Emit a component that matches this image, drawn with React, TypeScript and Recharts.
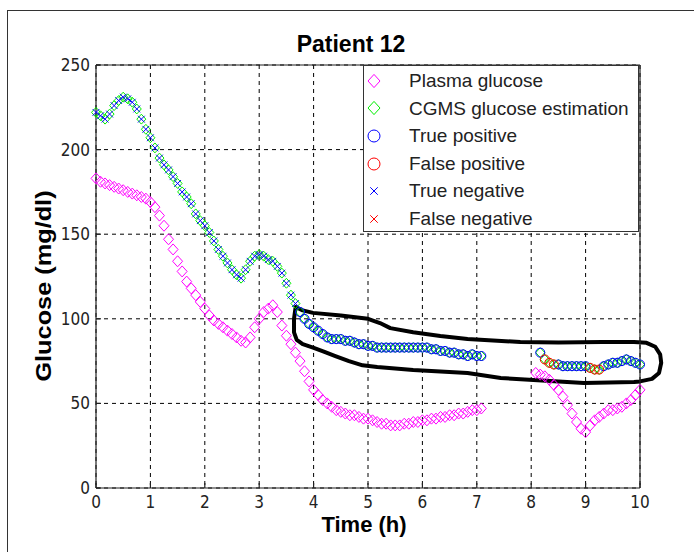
import React from 'react'
import {
  ComposedChart, Scatter, Line, XAxis, YAxis, CartesianGrid, Legend,
} from 'recharts'

const X_TICKS = [0, 1, 2, 3, 4, 5, 6, 7, 8, 9, 10]
const Y_TICKS = [0, 50, 100, 150, 200, 250]

// samples every 5 minutes, start of each segment in minutes
const STEP_MIN = 5
const PLASMA1_START = 0
const PLASMA2_START = 485
const CGMS1_START = 0
const CGMS2_START = 490

const plasma1 = [
  183, 181, 180, 179, 178, 177, 176, 175, 174, 173, 172, 171,
  169, 166, 161, 155, 147, 141, 134, 128, 122, 118, 114, 110,
  106, 102, 99, 97, 95, 93, 91, 89, 87, 86, 89, 95,
  100, 104, 106, 108, 104, 96, 90, 85, 80, 75, 69, 63,
  58, 55, 52, 50, 48, 46, 45, 44, 43, 43, 42, 41,
  41, 40, 39, 38, 38, 37, 37, 37, 38, 38, 39, 39,
  40, 40, 41, 41, 42, 42, 43, 43, 44, 44, 45, 46,
  46, 47,
]
const plasma2 = [
  68, 67, 66, 64, 61, 58, 54, 49, 44, 39, 35, 33,
  37, 40, 42, 44, 46, 46, 47, 48, 50, 52, 55, 58,
]
const cgms1 = [
  222, 220, 218, 221, 226, 229, 231, 230, 228, 224, 218, 212,
  207, 201, 195, 191, 188, 184, 180, 175, 172, 168, 162, 158,
  155, 151, 146, 141, 137, 133, 129, 126, 124, 129, 134, 137,
  138, 137, 135, 134, 131, 127, 121, 114, 109, 104, 100, 97,
  95, 93, 91, 89, 88, 88, 88, 87, 87, 86, 85, 85,
  84, 84, 83, 83, 83, 83, 83, 83, 83, 83, 83, 83,
  83, 83, 82, 82, 81, 81, 80, 80, 79, 79, 78, 79,
  78, 78,
]
const cgms2 = [
  80, 76, 74, 73, 73, 72, 72, 72, 72, 72, 72, 71,
  70, 70, 72, 73, 74, 74, 75, 76, 75, 74, 73,
]

// detection outcome of the CGMS samples
const TRUE_NEG_COUNT1 = 45
const falsePosIdx2 = [1, 2, 3, 11, 12, 13]

// hand drawn annotation loop
const loopT = [
  3.67, 3.8, 3.99, 4.5, 5.0, 5.22, 5.41, 5.83, 6.33, 6.83, 7.8, 8.5, 9.3, 9.89,
  10.12, 10.28, 10.37, 10.39, 10.35, 10.22, 10.0, 9.89, 8.97, 8.04, 7.44, 6.83, 5.83,
  5.17, 4.9, 4.65, 4.4, 4.2, 3.99, 3.8, 3.69, 3.64, 3.64,
]
const loopG = [
  107, 105, 103.5, 102, 100, 97.5, 94.5, 92, 89.8, 88, 86.3, 86, 86.3, 86.3,
  85.8, 83.5, 79, 74, 68, 64.5, 63, 62.6, 62, 63.8, 65, 68, 69.7,
  71.5, 72.5, 75, 78, 80.5, 83, 85, 87.5, 92, 100,
]

const legendItems = [
  { name: 'Plasma glucose', color: '#ff00ff', symbol: 'diamond' },
  { name: 'CGMS glucose estimation', color: '#00ee00', symbol: 'diamond' },
  { name: 'True positive', color: '#0000ff', symbol: 'circle' },
  { name: 'False positive', color: '#ff0000', symbol: 'circle' },
  { name: 'True negative', color: '#0000ff', symbol: 'x' },
  { name: 'False negative', color: '#ff0000', symbol: 'x' },
]

const toPoints = (vals: number[], start: number) =>
  vals.map((g, i) => ({ t: (start + STEP_MIN * i) / 60, g }))

const plasmaPts = [...toPoints(plasma1, PLASMA1_START), ...toPoints(plasma2, PLASMA2_START)]
const cgmsPts1 = toPoints(cgms1, CGMS1_START)
const cgmsPts2 = toPoints(cgms2, CGMS2_START)
const cgmsPts = [...cgmsPts1, ...cgmsPts2]
const trueNeg = cgmsPts1.slice(0, TRUE_NEG_COUNT1)
const truePos = [
  ...cgmsPts1.slice(TRUE_NEG_COUNT1),
  ...cgmsPts2.filter((_, i) => !falsePosIdx2.includes(i)),
]
const falsePos = cgmsPts2.filter((_, i) => falsePosIdx2.includes(i))
const falseNeg: { t: number; g: number }[] = []
const loopPts = loopT.map((t, i) => ({ t, g: loopG[i] }))

const FONT = '"Liberation Sans", Arial, Helvetica, sans-serif'
const TICK_FONT = '"Liberation Sans Narrow", "DejaVu Sans Condensed", sans-serif'

function mark(symbol: string, color: string, cx: number, cy: number, s: number) {
  if (symbol === 'diamond') {
    return (
      <polygon
        points={`${cx},${cy - s * 1.1} ${cx + s},${cy} ${cx},${cy + s * 1.1} ${cx - s},${cy}`}
        fill="none" stroke={color} strokeWidth={1}
      />
    )
  }
  if (symbol === 'circle') {
    return <circle cx={cx} cy={cy} r={s} fill="none" stroke={color} strokeWidth={1} />
  }
  const h = s * 0.75
  return (
    <path d={`M${cx - h},${cy - h}L${cx + h},${cy + h}M${cx - h},${cy + h}L${cx + h},${cy - h}`}
      stroke={color} strokeWidth={1} fill="none" />
  )
}

const shapeOf = (symbol: string, color: string, s: number) => (p: any) =>
  mark(symbol, color, p.cx, p.cy, s)

function LegendBox() {
  return (
    <div style={{
      position: 'relative', width: 276, height: 167, boxSizing: 'border-box',
      background: '#fff', border: '1px solid #333', fontFamily: FONT,
    }}>
      {legendItems.map((it, i) => (
        <div key={it.name} style={{ position: 'absolute', left: 0, top: 1 + i * 27.6, height: 27.6, width: '100%' }}>
          <svg width={16} height={16} style={{ position: 'absolute', left: 2, top: 5.8 }}>
            {mark(it.symbol, it.color, 8, 8, it.symbol === 'x' ? 5 : 6)}
          </svg>
          <span style={{ position: 'absolute', left: 45, top: 2, fontSize: 19, lineHeight: '24px', color: '#222', whiteSpace: 'nowrap' }}>
            {it.name}
          </span>
        </div>
      ))}
    </div>
  )
}

export default function App() {
  const tick = { fontSize: 17, fill: '#222', fontFamily: TICK_FONT }
  const axisLine = { stroke: '#222', strokeWidth: 1.2 }
  return (
    <div style={{ position: 'absolute', left: 0, top: 0, width: 694, height: 552, background: '#fff', overflow: 'hidden' }}>
      <style>{'.loop-line, .loop-line *{clip-path:none !important}'}</style>
      <div style={{ position: 'absolute', left: 7, top: 10, width: 687, height: 542, borderLeft: '1px solid #333', borderTop: '1px solid #333' }} />
      <div style={{ position: 'absolute', left: 151, top: 33, width: 400, textAlign: 'center', fontFamily: FONT, fontWeight: 'bold', fontSize: 23, lineHeight: '23px', color: '#000' }}>
        Patient 12
      </div>
      <div style={{ position: 'absolute', left: 164, top: 514, width: 400, textAlign: 'center', fontFamily: FONT, fontWeight: 'bold', fontSize: 22, lineHeight: '22px', color: '#000' }}>
        Time (h)
      </div>
      <div style={{ position: 'absolute', left: 44, top: 286, transform: 'translate(-50%, -50%) rotate(-90deg) scaleX(1.15)', fontFamily: FONT, fontWeight: 'bold', fontSize: 22, lineHeight: '22px', whiteSpace: 'nowrap', color: '#000' }}>
        Glucose (mg/dl)
      </div>
      <ComposedChart width={694} height={552} margin={{ top: 64, right: 53, bottom: 63, left: 95 }}>
        <CartesianGrid stroke="#000" strokeDasharray="4 4" />
        <XAxis dataKey="t" type="number" domain={[0, 10]} ticks={X_TICKS} height={1}
          tickSize={-5} tickMargin={13} tick={tick} axisLine={axisLine} tickLine={axisLine} />
        <XAxis xAxisId="top" orientation="top" dataKey="t" type="number" domain={[0, 10]} ticks={X_TICKS} height={1}
          tickSize={-5} tick={false} axisLine={axisLine} tickLine={axisLine} />
        <XAxis xAxisId="loop" dataKey="t" type="number" domain={[0, 10]} allowDataOverflow hide />
        <YAxis dataKey="g" type="number" domain={[0, 250]} ticks={Y_TICKS} width={1}
          tickSize={-5} tickMargin={11} tick={tick} axisLine={axisLine} tickLine={axisLine} />
        <YAxis yAxisId="right" orientation="right" dataKey="g" type="number" domain={[0, 250]} ticks={Y_TICKS} width={1}
          tickSize={-5} tick={false} axisLine={axisLine} tickLine={axisLine} />
        <Scatter name="Plasma glucose" data={plasmaPts} dataKey="g" shape={shapeOf('diamond', '#ff00ff', 5)} isAnimationActive={false} />
        <Scatter name="CGMS glucose estimation" data={cgmsPts} dataKey="g" shape={shapeOf('diamond', '#00ee00', 4.5)} isAnimationActive={false} />
        <Scatter name="True positive" data={truePos} dataKey="g" shape={shapeOf('circle', '#0000ff', 4.5)} isAnimationActive={false} />
        <Scatter name="False positive" data={falsePos} dataKey="g" shape={shapeOf('circle', '#ff0000', 4.5)} isAnimationActive={false} />
        <Scatter name="True negative" data={trueNeg} dataKey="g" shape={shapeOf('x', '#0000ff', 4.5)} isAnimationActive={false} />
        <Scatter name="False negative" data={falseNeg} dataKey="g" shape={shapeOf('x', '#ff0000', 4.5)} isAnimationActive={false} />
        <Line xAxisId="loop" data={loopPts} dataKey="g" type="linearClosed" className="loop-line"
          stroke="#000" strokeWidth={4} strokeLinejoin="round" dot={false} activeDot={false} isAnimationActive={false} />
        <Legend content={() => <LegendBox />} layout="vertical" align="center" verticalAlign="middle"
          wrapperStyle={{ left: 363, top: 65, width: 276 }} />
      </ComposedChart>
    </div>
  )
}
